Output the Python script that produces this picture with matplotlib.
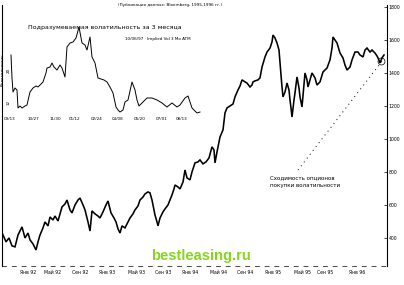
import matplotlib
matplotlib.use("Agg")
import matplotlib.pyplot as plt

# ---- main price series (week index, price) ----
weeks = [0, 3, 6, 9, 12, 15, 18, 22, 25, 28, 30, 33, 36, 38, 40, 43, 45, 48, 50, 53,
         55, 58, 62, 65, 67, 70, 72, 75, 78, 80, 83, 85, 88, 90, 92, 95, 98, 100, 103, 106,
         108, 111, 114, 116, 118, 120, 122, 125, 128, 130, 133, 135, 138, 140, 143, 145, 148, 150, 152, 155,
         157, 158, 160, 163, 165, 168, 170, 172, 174, 175, 178, 180, 183, 185, 187, 190, 192, 195, 198, 200,
         203, 206, 209, 212, 214, 215, 217, 220, 223, 225, 227, 230, 233, 235, 238, 240, 242, 245, 247, 250,
         252, 253, 255, 258, 260, 262, 265, 267, 270, 272, 273, 275, 277, 279, 280, 281, 282, 283, 285, 287,
         289, 290, 291, 292, 294, 295, 297, 299, 300, 302, 304, 305, 307, 308, 310, 312, 315, 317, 320, 323,
         325, 327, 330, 332, 333, 335, 337, 340, 343, 345, 347, 350, 352, 355, 358, 360, 363, 365, 367, 370,
         372, 375, 377, 378, 380, 382, 384]
price = [461, 418, 376, 400, 352, 346, 418, 467, 400, 430, 388, 364, 327, 376, 418, 461, 497, 473, 527, 509,
         533, 503, 588, 606, 630, 570, 552, 600, 630, 642, 600, 570, 497, 442, 564, 546, 533, 521, 558, 600,
         624, 552, 521, 497, 455, 430, 473, 461, 497, 521, 546, 570, 594, 630, 648, 667, 679, 673, 630, 539,
         497, 473, 521, 558, 576, 600, 630, 661, 697, 721, 709, 697, 739, 812, 764, 752, 800, 855, 861, 873,
         849, 861, 885, 952, 933, 855, 921, 1012, 1055, 1158, 1188, 1200, 1212, 1255, 1297, 1321, 1358, 1346, 1339, 1315,
         1327, 1346, 1352, 1358, 1370, 1436, 1497, 1527, 1551, 1588, 1630, 1612, 1582, 1539, 1461, 1388, 1315, 1255, 1285, 1339,
         1297, 1236, 1188, 1133, 1236, 1279, 1376, 1309, 1255, 1194, 1327, 1400, 1358, 1315, 1358, 1400, 1370, 1327, 1346, 1406,
         1418, 1430, 1479, 1551, 1618, 1600, 1582, 1521, 1491, 1448, 1418, 1436, 1479, 1527, 1527, 1509, 1497, 1539, 1551, 1527,
         1539, 1521, 1503, 1491, 1461, 1491, 1509]

# trend line (dotted) endpoints
trend_weeks = [298, 383]
trend_price = [812, 1479]

# right-axis ticks
ytick_vals = [1800, 1600, 1400, 1200, 1000, 800, 600, 400]
# bottom ticks
xtick_pos = [28, 53, 80, 107, 137, 163, 190, 218, 245, 273, 302, 325, 357]
xtick_lab = ["Янв 92", "Май 92", "Сен 92", "Янв 93", "Май 93", "Сен 93", "Янв 94",
             "Май 94", "Сен 94", "Янв 95", "Май 95", "Сен 95", "Янв 96"]

# ---- inset implied volatility series ----
vol_x = [11, 12, 13, 15, 17, 18, 20, 22, 25, 27, 30, 33, 36, 38, 41, 43, 46, 47, 50, 52,
         54, 57, 60, 62, 65, 67, 70, 73, 76, 79, 82, 85, 87, 90, 92, 95, 98, 101, 104, 107,
         110, 113, 116, 118, 120, 123, 125, 128, 132, 135, 137, 139, 142, 147, 152, 157, 162, 167, 172, 177,
         180, 185, 188, 192, 197, 200]
vol = [23.75, 18.0, 14.5, 15.5, 15.0, 10.5, 11.0, 10.5, 11.0, 11.25, 14.5, 15.5, 16.0, 15.75, 16.5, 17.0, 19.25, 20.5, 20.75, 21.75,
       20.75, 20.0, 21.25, 20.5, 18.25, 25.75, 26.75, 27.0, 28.0, 30.75, 26.75, 26.25, 25.0, 28.25, 23.25, 21.75, 18.0, 17.75, 17.5, 17.0,
       15.75, 14.25, 10.75, 10.0, 9.5, 10.0, 12.0, 12.5, 17.0, 15.0, 12.5, 11.0, 11.75, 13.0, 13.0, 12.5, 11.75, 10.75, 11.75, 10.75,
       11.25, 13.0, 13.5, 10.5, 9.25, 9.5]
vol_xtick_pos = [10, 33, 55, 75, 97, 118, 140, 162, 182]
vol_xtick_lab = ["09/13", "10/27", "11/30", "01/12", "02/24", "04/08", "05/20", "07/01", "08/13"]
vol_ytick_vals = [20, 12]

fig = plt.figure(figsize=(4.04, 2.85), dpi=100)
fig.patch.set_facecolor("white")

ax = fig.add_axes([2 / 404, (285 - 266) / 285, 385 / 404, 261 / 285])
ax.plot(weeks, price, color="black", lw=1.15, solid_joinstyle="miter")
ax.plot(trend_weeks, trend_price, color="black", lw=0.7, ls=(0, (1, 4)))
ax.plot([381], [1473], marker="o", ms=5, mfc="none", mec="black", mew=0.5)
ax.set_xlim(2, 387)
ax.set_ylim(230, 1812)
ax.spines["top"].set_visible(False)
ax.spines["bottom"].set_linestyle((0, (6, 8)))
ax.spines["bottom"].set_linewidth(0.5)
ax.spines["left"].set_linewidth(0.8)
ax.spines["right"].set_linewidth(0.8)
ax.yaxis.tick_right()
ax.set_yticks(ytick_vals)
ax.set_yticklabels([str(v) for v in ytick_vals])
ax.tick_params(axis="y", direction="in", length=2, width=0.5, pad=1, labelsize=3.3)
ax.set_xticks(xtick_pos)
ax.set_xticklabels(xtick_lab)
ax.tick_params(axis="x", direction="in", length=0, pad=3, labelsize=3.3)

ax.text(270, 762, "Сходимость опционов", fontsize=4, ha="left", va="center")
ax.text(270, 715, "покупки волатильности", fontsize=4, ha="left", va="center")

fig.text(170 / 404, 1 - 5 / 285, "(Публикация данных: Bloomberg, 1995-1996 гг.)",
         fontsize=3, ha="center", va="center")

fig.text(201 / 404, 1 - 256 / 285, "bestleasing.ru", fontsize=10.6, fontweight="bold",
         family="Liberation Sans", color="#86d61e", ha="center", va="center")

# ---- inset ----
ins = fig.add_axes([0, (285 - 116) / 285, 205 / 404, 94 / 285])
ins.patch.set_alpha(0)
ins.plot(vol_x, vol, color="black", lw=0.7)
ins.set_xlim(0, 205)
ins.set_ylim(8.5, 32)
for s in ["top", "right", "bottom", "left"]:
    ins.spines[s].set_visible(False)
ins.set_xticks(vol_xtick_pos)
ins.set_xticklabels(vol_xtick_lab)
ins.tick_params(axis="x", length=0, pad=1, labelsize=3)
ins.set_yticks([])
for v in vol_ytick_vals:
    ins.text(9, v, str(v), fontsize=3, rotation=90, ha="center", va="center")
ins.text(3, 20, "Волатильность", fontsize=3, rotation=90, ha="center", va="center")
ins.text(28, 30.5, "Подразумеваемая волатильность за 3 месяца", fontsize=4.5,
         ha="left", va="center")
ins.text(125, 27.8, "10/06/97 · Implied Vol 3 Mo ATM", fontsize=3, ha="left", va="center")

fig.savefig("out.png", dpi=100)
